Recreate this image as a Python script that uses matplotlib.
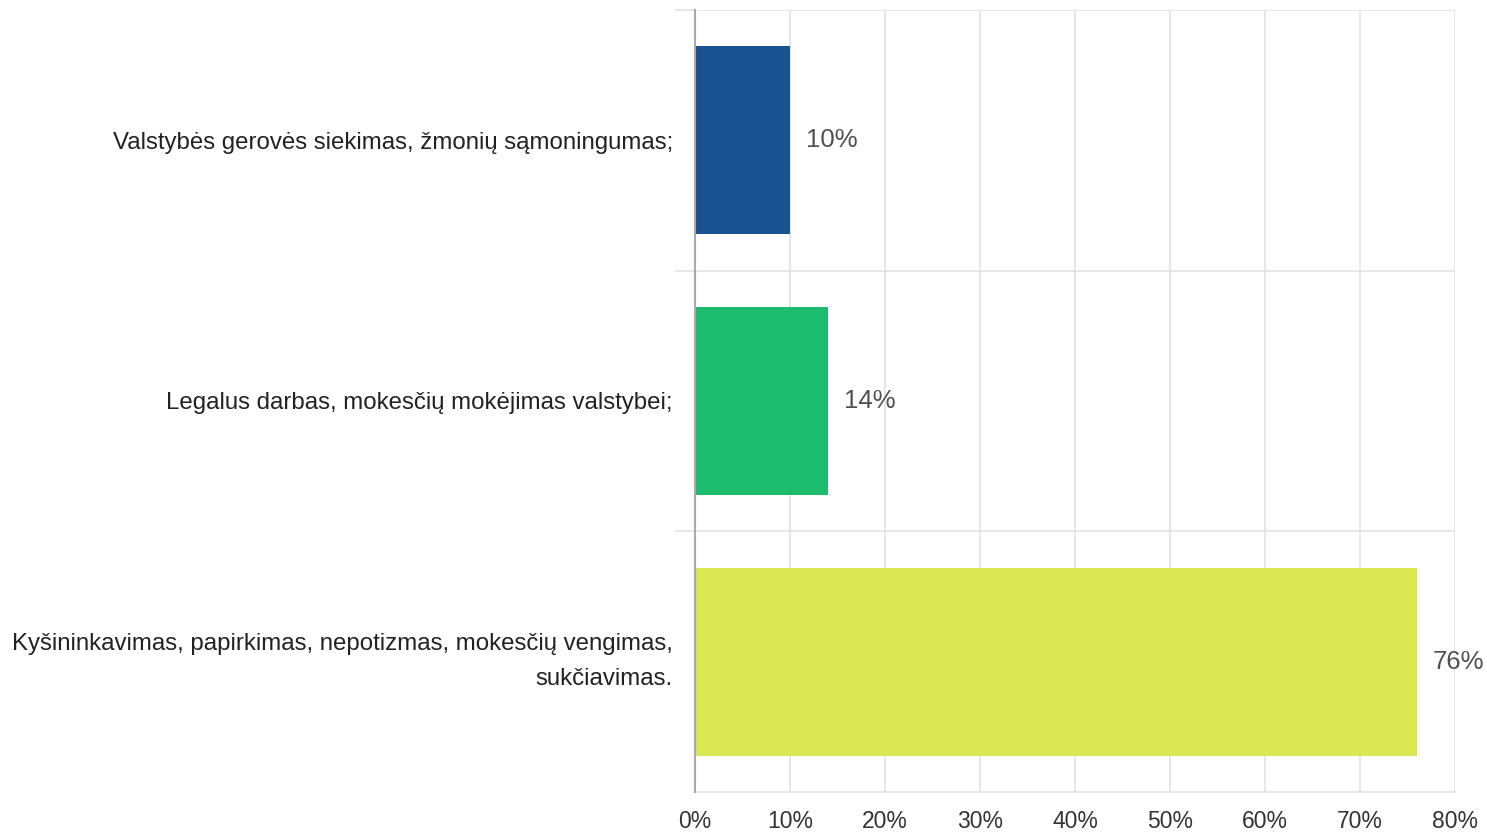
import matplotlib
matplotlib.use('Agg')
import matplotlib.pyplot as plt
from matplotlib.ticker import FixedLocator

plt.rcParams['font.family'] = ['Liberation Sans', 'DejaVu Sans']

# Duomenys
categories = [
    'Valstybės gerovės siekimas, žmonių sąmoningumas;',
    'Legalus darbas, mokesčių mokėjimas valstybei;',
    'Kyšininkavimas, papirkimas, nepotizmas, mokesčių vengimas,\nsukčiavimas.',
]
values = [10, 14, 76]
colors = ['#1a5190', '#1dbb6d', '#d9e853']
xticks = [0, 10, 20, 30, 40, 50, 60, 70, 80]

fig = plt.figure(figsize=(14.87, 8.34), dpi=100)
ax = fig.add_axes([695 / 1487, 1 - 792 / 834, 760 / 1487, 782 / 834])

ypos = list(range(len(categories)))
ax.barh(ypos, values, height=0.72, color=colors, zorder=3)

for y, v in zip(ypos, values):
    ax.text(v + 1.65, y, f'{v}%', va='center', ha='left', fontsize=18.5, color='#505050')

ax.set_xlim(0, 80)
ax.set_ylim(len(categories) - 0.5, -0.5)

ax.set_xticks(xticks)
ax.set_xticklabels([f'{t}%' for t in xticks], fontsize=16.5, color='#333333')
ax.tick_params(axis='x', length=0, pad=13)
ax.grid(axis='x', color='#e0e0e0', linewidth=1.1, zorder=0)

ax.set_yticks(ypos)
ax.set_yticklabels(categories, fontsize=17.3, color='#222222', linespacing=1.8)
for lbl in ax.get_yticklabels():
    if '\n' in lbl.get_text():
        lbl.set_va('center')
ax.tick_params(axis='y', which='major', length=0, pad=16)
ax.yaxis.set_minor_locator(FixedLocator([-0.5, 0.5, 1.5]))
ax.tick_params(axis='y', which='minor', length=14.5, color='#e0e0e0', width=1.1)
ax.grid(axis='y', which='minor', color='#e0e0e0', linewidth=1.1, zorder=0)
ax.axhline(len(categories) - 0.5, color='#e0e0e0', linewidth=1.1, zorder=0, clip_on=False)

for s in ['top', 'right', 'bottom']:
    ax.spines[s].set_visible(False)
ax.spines['left'].set_color('#aaaaaa')
ax.spines['left'].set_linewidth(1.5)
ax.spines['left'].set_zorder(4)

plt.savefig('out.png', dpi=100)
